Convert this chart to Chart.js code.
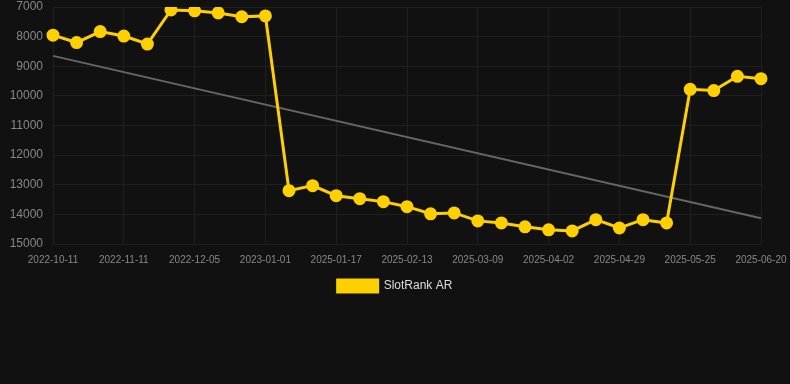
<!DOCTYPE html>
<html>
<head>
<meta charset="utf-8">
<script src="https://cdn.jsdelivr.net/npm/chart.js@4/dist/chart.umd.min.js"></script>
<style>
  html, body { margin:0; padding:0; background:#111111; overflow:hidden; }
  #wrap { width:790px; height:304px; position:relative; margin-top:-2px; }
</style>
</head>
<body>
<div id="wrap"><canvas id="rankChart"></canvas></div>
<script>
// ============================================================
// SLOTRANK AR — rank history
// ============================================================
const labels = [
  '2022-10-11','2022-10-21','2022-11-01','2022-11-11','2022-11-19','2022-11-27',
  '2022-12-05','2022-12-14','2022-12-23','2023-01-01','2025-01-06','2025-01-11',
  '2025-01-17','2025-01-26','2025-02-04','2025-02-13','2025-02-21','2025-03-01',
  '2025-03-09','2025-03-17','2025-03-25','2025-04-02','2025-04-11','2025-04-20',
  '2025-04-29','2025-05-07','2025-05-16','2025-05-25','2025-06-03','2025-06-11',
  '2025-06-20'
];
const rankValues = [
  7950, 8200, 7830, 7980, 8250, 7100, 7130, 7200, 7330, 7300,
  13200, 13030, 13370, 13470, 13570, 13740, 13980, 13950, 14220, 14290,
  14420, 14520, 14560, 14180, 14460, 14180, 14290, 9780, 9820, 9340,
  9420
];
// trend line endpoints
const trendStart = 8650;
const trendEnd   = 14130;
const yTicks = [7000, 8000, 9000, 10000, 11000, 12000, 13000, 14000, 15000];

const trendValues = labels.map((_, i) => i === 0 ? trendStart : (i === labels.length-1 ? trendEnd : null));

const ctx = document.getElementById('rankChart').getContext('2d');
new Chart(ctx, {
  type: 'line',
  data: {
    labels,
    datasets: [
      { label:'SlotRank AR', data: rankValues, borderColor:'#ffd000', backgroundColor:'#ffd000',
        borderWidth:3, pointRadius:5, pointHoverRadius:6, pointBackgroundColor:'#ffd000', tension:0 },
      { label:'trend', data: trendValues, borderColor:'#666666', borderWidth:2, pointRadius:0,
        spanGaps:true, fill:false },
    ],
  },
  options: {
    responsive: true,
    maintainAspectRatio: false,
    animation: false,
    layout: { padding: { left:0, right:0, top:3, bottom:0 } },
    plugins: {
      legend: {
        position:'bottom',
        labels: { color:'#dddddd', font:{ family:'Arial, Liberation Sans', size:12 }, boxWidth:40, boxHeight:12,
                  filter: item => item.text !== 'trend' },
      },
      tooltip: { enabled:false },
    },
    scales: {
      x: {
        ticks: { color:'#888888', font:{ family:'Arial, Liberation Sans', size:10 }, maxRotation:0, autoSkip:false,
                 padding:10, callback: (v, i) => i % 3 === 0 ? labels[i] : null },
        grid: { color:'#1f1f1f', drawTicks:false },
        border: { color:'#1f1f1f' },
        afterFit: axis => { axis.paddingLeft = 0; axis.paddingRight = 29; axis.height -= 6; },
      },
      y: {
        reverse: true,
        min: 7000, max: 15000,
        afterBuildTicks: axis => { axis.ticks = yTicks.map(v => ({ value:v })); },
        ticks: { color:'#888888', font:{ family:'Arial, Liberation Sans', size:12 }, padding:10,
                 callback: v => String(v) },
        grid: { color:'#1f1f1f', drawTicks:false },
        border: { display:false },
        afterFit: axis => { axis.width = 53; axis.paddingTop = 0; axis.paddingBottom = 0; },
      },
    },
  },
});
</script>
</body>
</html>
